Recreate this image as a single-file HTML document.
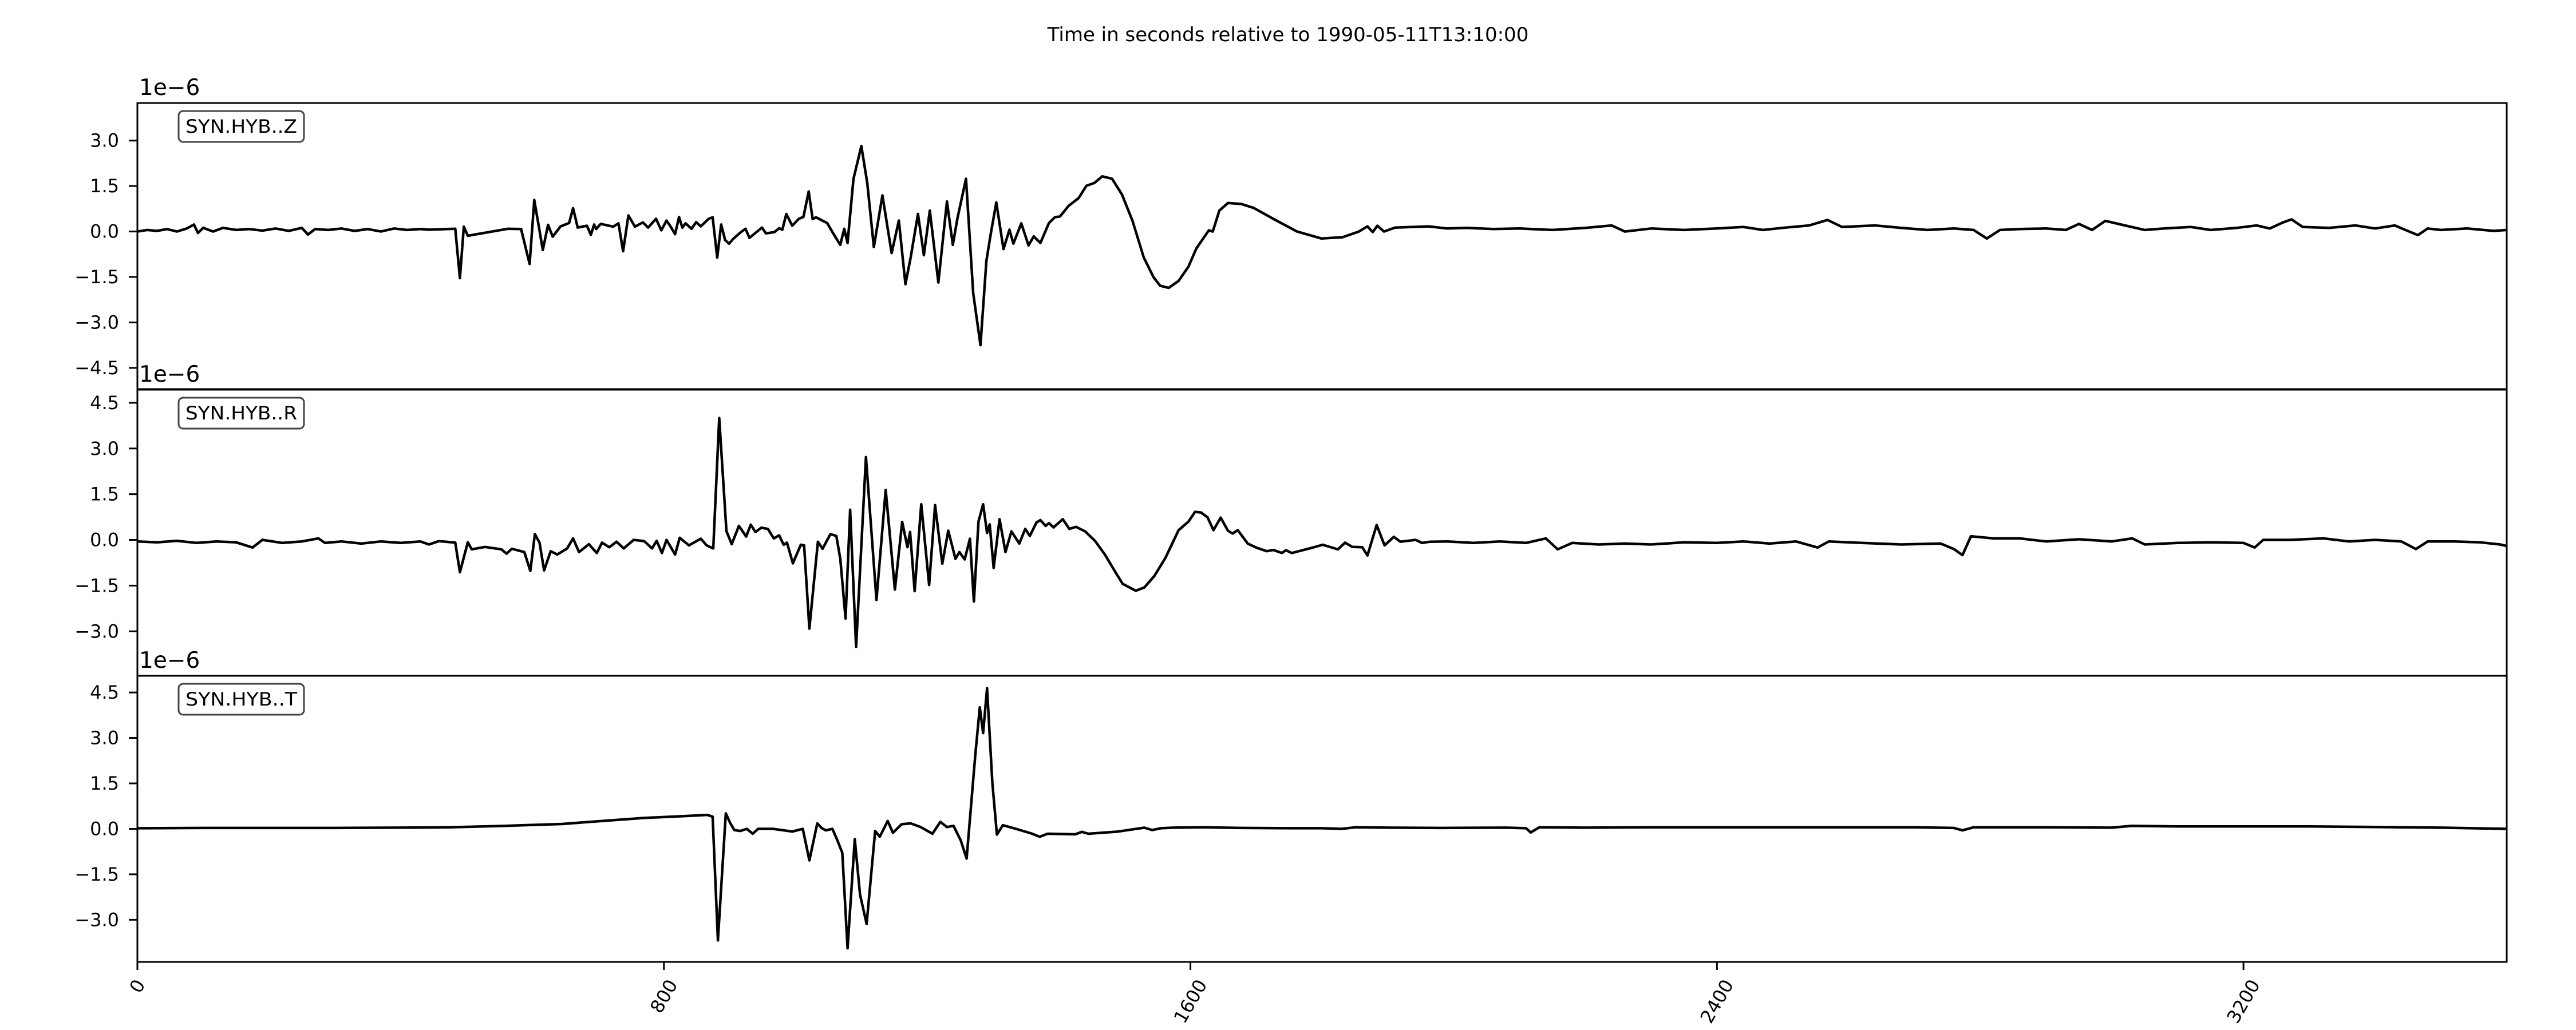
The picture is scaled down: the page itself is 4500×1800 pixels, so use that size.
<!DOCTYPE html>
<html><head><meta charset="utf-8"><style>
html,body{margin:0;padding:0;background:#fff}
svg{display:block}
text{font-family:"DejaVu Sans","Liberation Sans",sans-serif;fill:#000}
</style></head><body>
<svg id="fig" width="4500" height="1800" viewBox="0 0 4500 1800" xmlns="http://www.w3.org/2000/svg">
<rect x="0" y="0" width="4500" height="1800" fill="#fff"/>
<text x="2250" y="72" font-size="34" text-anchor="middle">Time in seconds relative to 1990-05-11T13:10:00</text>
<g id="plots"></g>
</svg>
<script>
// ---- data (units of 1e-6) ----
const xTickValues = [0, 800, 1600, 2400, 3200];
const channelNames = ["SYN.HYB..Z", "SYN.HYB..R", "SYN.HYB..T"];
const zTicks = [-4.5, -3.0, -1.5, 0.0, 1.5, 3.0];
const rTicks = [-3.0, -1.5, 0.0, 1.5, 3.0, 4.5];
const tTicks = [-3.0, -1.5, 0.0, 1.5, 3.0, 4.5];
const zLimits = [-5.2, 4.24];
const rLimits = [-4.46, 4.93];
const tLimits = [-4.39, 5.05];

const zTimes = [0,15,30,45,60,75,86,92,100,115,130,150,170,190,210,230,250,259,270,290,310,330,350,370,390,410,430,443,
483,490,496,502,563,583,596,603,611,616,624,631,643,656,662,669,683,689,694,697,704,723,731,738,746,756,768,776,788,796,804,810,817,823,828,833,842,849,856,868,874,881,887,893,899,905,917,924,930,940,949,955,968,975,980,986,995,1005,1012,1020,1026,1031,1048,1058,1068,1074,1079,1088,1100,1109,1119,1132,1146,1157,1167,1175,1186,1195,1204,1217,1230,1239,1246,1259,1270,1281,1290,1296,1305,1316,1325,1331,1343,1354,1362,1372,1385,1394,1402,1415,1430,1442,1454,1466,1481,1496,1512,1529,1544,1554,1567,1582,1597,1609,1628,1634,1644,1657,1677,1696,1729,1762,1799,1831,1856,1869,1877,1884,1894,1911,1962,
1990,2020,2060,2100,2150,2200,2240,2260,2300,2350,2400,2440,2470,2500,2540,2568,2590,2640,2680,2720,2760,2790,2810,2830,2860,2900,2930,2950,2970,2990,3020,3050,3080,3120,3150,3190,3220,3240,3260,3273,3290,3330,3370,3400,3430,3465,3480,3500,3540,3580,3600];
const zValues = [0,0.05,0.02,0.08,0,0.1,0.23,-0.05,0.12,0,0.12,0.05,0.08,0.03,0.1,0.02,0.12,-0.1,0.08,0.05,0.1,0.02,0.08,0,0.1,0.05,0.08,0.06,
0.09,-1.54,0.16,-0.14,0.09,0.08,-1.07,1.04,0.03,-0.61,0.22,-0.17,0.17,0.28,0.77,0.13,0.19,-0.11,0.23,0.08,0.25,0.16,0.27,-0.65,0.53,0.16,0.30,0.13,0.42,0.04,0.36,0.17,-0.09,0.48,0.13,0.27,0.09,0.31,0.17,0.42,0.47,-0.86,0.23,-0.28,-0.40,-0.25,-0.02,0.09,-0.21,-0.03,0.13,-0.06,-0.02,0.11,0.06,0.58,0.19,0.42,0.48,1.32,0.41,0.47,0.28,-0.09,-0.44,0.09,-0.38,1.73,2.82,1.6,-0.51,1.19,-0.71,0.36,-1.74,-0.85,0.58,-0.78,0.69,-1.68,0.99,-0.44,0.44,1.74,-2.04,-3.75,-0.97,-0.16,0.96,-0.58,0.06,-0.40,0.27,-0.46,-0.16,-0.38,0.28,0.47,0.50,0.85,1.10,1.51,1.60,1.82,1.74,1.22,0.35,-0.85,-1.51,-1.79,-1.86,-1.63,-1.16,-0.56,0.04,0,0.69,0.94,0.91,0.78,0.38,0,-0.23,-0.19,0,0.17,-0.02,0.19,0,0.13,0.17,
0.1,0.12,0.08,0.1,0.05,0.12,0.2,0,0.1,0.05,0.1,0.15,0.05,0.12,0.2,0.38,0.15,0.2,0.12,0.05,0.1,0.05,-0.23,0.05,0.08,0.1,0.05,0.25,0.05,0.35,0.2,0.05,0.1,0.15,0.05,0.12,0.2,0.1,0.3,0.4,0.15,0.12,0.2,0.1,0.2,-0.12,0.1,0.05,0.1,0.02,0.05];

const rTimes = [0,30,60,90,120,150,175,190,220,250,275,285,310,340,370,400,430,443,
458,483,490,502,508,528,553,561,569,588,597,604,611,618,628,638,653,662,671,686,698,706,717,728,739,754,770,782,789,797,804,817,824,838,856,865,875,884,895,903,914,925,932,939,948,958,967,975,982,987,996,1008,1013,1021,1034,1041,1053,1062,1068,1076,1083,1092,1107,1123,1137,1151,1162,1170,1174,1181,1191,1203,1212,1223,1232,1243,1249,1257,1265,1271,1278,1285,1291,1295,1301,1310,1319,1328,1340,1349,1356,1366,1372,1380,1385,1392,1406,1416,1426,1440,1455,1470,1487,1497,1517,1530,1545,1562,1582,1597,1607,1616,1626,1635,1646,1657,1664,1672,1687,1701,1716,1726,1739,1745,1754,1781,1801,1824,1835,1846,1861,1869,1883,1895,1909,1919,1942,1952,1964,
1990,2030,2070,2110,2140,2158,2180,2220,2260,2300,2350,2400,2440,2480,2520,2553,2570,2620,2680,2740,2760,2773,2786,2820,2860,2900,2950,3000,3031,3050,3100,3150,3200,3217,3230,3270,3322,3360,3400,3440,3462,3480,3520,3560,3590,3600];
const rValues = [-0.05,-0.08,-0.03,-0.1,-0.05,-0.08,-0.25,0,-0.1,-0.05,0.05,-0.1,-0.05,-0.12,-0.05,-0.1,-0.05,-0.15,
-0.04,-0.09,-1.06,-0.08,-0.31,-0.23,-0.31,-0.45,-0.29,-0.40,-1.02,0.19,-0.09,-1.0,-0.37,-0.48,-0.28,0.05,-0.40,-0.14,-0.43,-0.09,-0.24,-0.06,-0.28,0,-0.04,-0.28,-0.03,-0.43,0,-0.48,0.07,-0.18,0.04,-0.18,-0.28,4.0,0.29,-0.14,0.46,0.11,0.50,0.26,0.40,0.36,0.05,0.15,-0.16,-0.09,-0.77,-0.16,-0.18,-2.91,-0.06,-0.29,0.19,0.13,-0.62,-2.58,0.99,-3.51,2.72,-1.97,1.64,-1.63,0.59,-0.24,0.26,-1.68,1.17,-1.48,1.14,-0.78,0.30,-0.62,-0.40,-0.64,0.04,-2.02,0.60,1.17,0.23,0.51,-0.92,0.68,-0.40,0.28,-0.12,0.36,0.13,0.57,0.65,0.46,0.55,0.41,0.68,0.36,0.43,0.28,-0.03,-0.48,-1.09,-1.44,-1.67,-1.56,-1.19,-0.59,0.32,0.60,0.92,0.90,0.74,0.32,0.73,0.30,0.21,0.32,-0.12,-0.26,-0.37,-0.33,-0.43,-0.34,-0.43,-0.28,-0.16,-0.31,-0.09,-0.23,-0.24,-0.51,0.49,-0.18,0.10,-0.06,0,-0.10,-0.06,
-0.05,-0.1,-0.05,-0.1,0.05,-0.31,-0.1,-0.15,-0.12,-0.15,-0.08,-0.1,-0.05,-0.12,-0.05,-0.25,-0.05,-0.1,-0.15,-0.12,-0.3,-0.5,0.12,0.05,0.05,-0.05,0.02,-0.05,0.05,-0.15,-0.1,-0.08,-0.1,-0.25,0,0,0.05,-0.05,0,-0.05,-0.3,-0.05,-0.05,-0.08,-0.15,-0.2];

const tTimes = [0,100,200,300,400,474,560,645,700,770,830,866,874,882,894,901,907,916,926,935,943,966,995,1011,1021,1033,1040,1046,1056,1063,1071,1079,1090,1098,1108,1121,1128,1140,1148,1161,1175,1190,1208,1220,1230,1240,1251,1260,1273,1280,1285,1291,1299,1306,1315,1335,1358,1371,1383,1425,1435,1445,1490,1530,1542,1555,1574,
1620,1680,1750,1800,1830,1850,1900,1980,2080,2110,2117,2130,2200,2300,2400,2500,2600,2700,2760,2773,2790,2900,3000,3030,3100,3200,3300,3400,3500,3600];
const tValues = [0.02,0.03,0.03,0.03,0.04,0.05,0.1,0.16,0.25,0.36,0.42,0.46,0.40,-3.68,0.51,0.18,-0.04,-0.07,0,-0.16,0,0,-0.09,0,-1.04,0.18,0.02,-0.05,0,-0.35,-0.79,-3.94,-0.34,-2.17,-3.14,-0.07,-0.26,0.26,-0.13,0.15,0.18,0.06,-0.16,0.23,0.06,0.10,-0.38,-0.98,2.41,4.01,3.16,4.64,1.53,-0.19,0.12,0,-0.15,-0.26,-0.16,-0.18,-0.10,-0.16,-0.09,0.04,-0.04,0.02,0.04,
0.05,0.03,0.02,0.02,0,0.05,0.04,0.03,0.04,0.02,-0.12,0.05,0.04,0.05,0.05,0.05,0.05,0.05,0.03,-0.05,0.05,0.05,0.04,0.1,0.08,0.08,0.08,0.06,0.04,0];

// ---- layout ----
const NS = "http://www.w3.org/2000/svg";
const X0 = 240, X1 = 4379, TMIN = 0, TMAX = 3600;
const panelTops = [180, 681, 1181];
const panelH = 500;
function xScale(t){ return X0 + (t - TMIN) / (TMAX - TMIN) * (X1 - X0); }
function mk(tag, attrs, parent){ const e = document.createElementNS(NS, tag); for (const k in attrs) e.setAttribute(k, attrs[k]); parent.appendChild(e); return e; }

const root = document.getElementById("plots");
const series = [[zTimes, zValues, zLimits, zTicks], [rTimes, rValues, rLimits, rTicks], [tTimes, tValues, tLimits, tTicks]];
const keys = ["z", "r", "t"];

series.forEach((s, i) => {
  const [times, vals, lim, ticks] = s;
  const top = panelTops[i], bot = top + panelH;
  const yScale = v => bot - (v - lim[0]) / (lim[1] - lim[0]) * panelH;
  const g = mk("g", {}, root);
  
  

  let d = "";
  for (let k = 0; k < times.length; k++) d += (k ? "L" : "M") + xScale(times[k]).toFixed(1) + "," + yScale(vals[k]).toFixed(1);
  const p = mk("path", {d: d, fill: "none", stroke: "#000", "stroke-width": 4.5, "stroke-linejoin": "round"}, g);
  
  

  const fr = mk("rect", {x: X0, y: top, width: X1 - X0, height: panelH, fill: "none", stroke: "#000", "stroke-width": 3}, g);
  
  

  ticks.forEach(v => {
    const y = yScale(v);
    const tl = mk("line", {x1: X0 - 15, x2: X0, y1: y, y2: y, stroke: "#000", "stroke-width": 3}, g);
    
    
    const tx = mk("text", {x: 208, y: y + 11, "font-size": 32, "text-anchor": "end"}, g);
    
    
    tx.textContent = v.toFixed(1).replace("-", "\u2212");
  });

  const off = mk("text", {x: 243, y: top - 14, "font-size": 39}, g);
  
  
  off.textContent = "1e\u22126";

  const bx = mk("rect", {x: 312, y: top + 14, width: 219, height: 54, rx: 8, fill: "#fff", stroke: "#444", "stroke-width": 3}, g);
  
  
  const bt = mk("text", {x: 324, y: top + 52, "font-size": 32, textLength: 195, lengthAdjust: "spacingAndGlyphs"}, g);
  
  
  bt.textContent = channelNames[i];
});

const axisBottom = panelTops[2] + panelH;
xTickValues.forEach(v => {
  const x = xScale(v);
  const tl = mk("line", {x1: x, x2: x, y1: axisBottom, y2: axisBottom + 14, stroke: "#000", "stroke-width": 3}, root);
  
  
  const label = String(v);
  const w = label.length * 0.636 * 32;
  const cy = axisBottom + 24 + (w * 0.866 + 32 * 0.6) / 2;
  const tx = mk("text", {x: x, y: cy + 11, "font-size": 32, "text-anchor": "middle", transform: "rotate(-60 " + x + " " + cy + ")"}, root);
  
  
  tx.textContent = label;
});
</script>
</body></html>
